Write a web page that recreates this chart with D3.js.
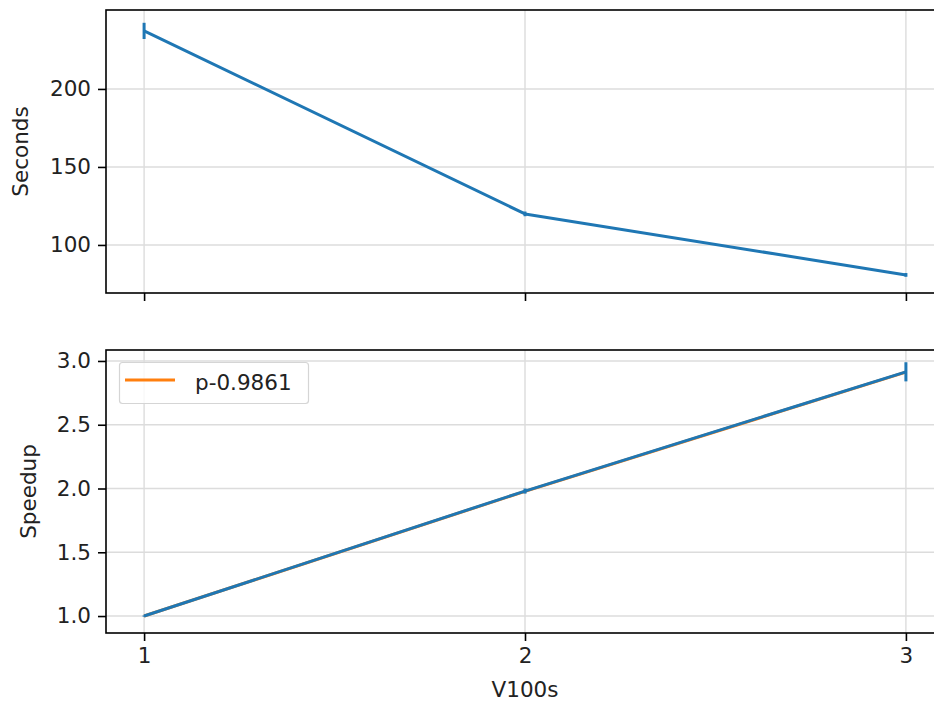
<!DOCTYPE html>
<html>
<head>
<meta charset="utf-8">
<script src="https://cdn.jsdelivr.net/npm/d3@7"></script>
<style>
body{margin:0;background:#fff;}
svg{display:block;font-family:"DejaVu Sans",sans-serif;}
</style>
</head>
<body>
<script>
var gpus = [1, 2, 3];
var seconds = [237.2, 119.9, 80.8];
var secondsErr = [5.2, 1.5, 1.2];
var speedup = [1.0, 1.98, 2.915];
var speedupErr = [0.005, 0.02, 0.075];
var fitLine = [1.0, 1.978, 2.912];
var fitLabel = "p-0.9861";
var secTicks = [100, 150, 200];
var spdTicks = [1.0, 1.5, 2.0, 2.5, 3.0];
var secRange = [69.2, 250.6];
var spdRange = [0.867, 3.086];

var W = 934, H = 704;
var FS = "21.5px";
var blue = "#1f77b4", orange = "#ff7f0e";
var svg = d3.select("body").append("svg").attr("width", W).attr("height", H);

var x = d3.scaleLinear().domain([0.9, 3.1]).range([106, 944]);
var yTop = d3.scaleLinear().domain(secRange).range([293, 10]);
var yBot = d3.scaleLinear().domain(spdRange).range([633, 350]);

function panel(y, ticks, fmt, label, labelX, showX){
	var g = svg.append("g");
	var top = y.range()[1], bot = y.range()[0];
	// grid
	g.selectAll(".gx").data(gpus).enter().append("line")
		.attr("x1", function(d){ return x(d); }).attr("x2", function(d){ return x(d); })
		.attr("y1", top).attr("y2", bot)
		.attr("stroke", "#dcdcdc").attr("stroke-width", 1.4);
	g.selectAll(".gy").data(ticks).enter().append("line")
		.attr("x1", x.range()[0]).attr("x2", x.range()[1])
		.attr("y1", function(d){ return y(d); }).attr("y2", function(d){ return y(d); })
		.attr("stroke", "#dcdcdc").attr("stroke-width", 1.4);
	var ya = g.append("g").attr("transform", "translate(" + x.range()[0] + ",0)")
		.call(d3.axisLeft(y).tickValues(ticks).tickFormat(fmt).tickSize(8).tickPadding(7));
	var xa = g.append("g").attr("transform", "translate(0," + bot + ")")
		.call(d3.axisBottom(x).tickValues(gpus).tickFormat(showX ? d3.format("d") : "").tickSize(8).tickPadding(7));
	[ya, xa].forEach(function(a){
		a.select(".domain").remove();
		a.selectAll("line").attr("stroke", "#000").attr("stroke-width", 1.6);
		a.selectAll("text").attr("fill", "#222").style("font-size", FS).style("font-family", "DejaVu Sans");
	});
	g.append("rect").attr("x", x.range()[0]).attr("y", top)
		.attr("width", x.range()[1] - x.range()[0]).attr("height", bot - top)
		.attr("fill", "none").attr("stroke", "#000").attr("stroke-width", 1.6);
	g.append("text").attr("transform", "translate(" + labelX + "," + (top + bot) / 2 + ") rotate(-90)")
		.attr("text-anchor", "middle").attr("fill", "#222").style("font-size", FS)
		.text(label);
	return g;
}

function series(g, y, vals, errs){
	var line = d3.line().x(function(d, i){ return x(gpus[i]); }).y(function(d){ return y(d); });
	g.append("path").datum(vals).attr("d", line).attr("fill", "none")
		.attr("stroke", blue).attr("stroke-width", 3).attr("stroke-linejoin", "round");
	g.selectAll(".eb").data(vals).enter().append("line")
		.attr("x1", function(d, i){ return x(gpus[i]); }).attr("x2", function(d, i){ return x(gpus[i]); })
		.attr("y1", function(d, i){ return y(d - errs[i]); }).attr("y2", function(d, i){ return y(d + errs[i]); })
		.attr("stroke", blue).attr("stroke-width", 3);
}

var g1 = panel(yTop, secTicks, d3.format("d"), "Seconds", 28, false);
series(g1, yTop, seconds, secondsErr);

var g2 = panel(yBot, spdTicks, d3.format(".1f"), "Speedup", 36, true);
var fl = d3.line().x(function(d, i){ return x(gpus[i]); }).y(function(d){ return yBot(d); });
g2.append("path").datum(fitLine).attr("d", fl).attr("fill", "none")
	.attr("stroke", orange).attr("stroke-width", 3);
series(g2, yBot, speedup, speedupErr);

// legend
var lg = g2.append("g");
lg.append("rect").attr("x", 119.5).attr("y", 362.5).attr("width", 189).attr("height", 41).attr("rx", 3)
	.attr("fill", "rgba(255,255,255,0.8)").attr("stroke", "#d5d5d5").attr("stroke-width", 1.2);
lg.append("line").attr("x1", 125).attr("x2", 175).attr("y1", 380).attr("y2", 380)
	.attr("stroke", orange).attr("stroke-width", 3);
lg.append("text").attr("x", 195).attr("y", 390).attr("fill", "#222").style("font-size", FS).text(fitLabel);

svg.append("text").attr("x", (x(1) + x(3)) / 2).attr("y", 697).attr("text-anchor", "middle")
	.attr("fill", "#222").style("font-size", FS).text("V100s");
</script>
</body>
</html>
